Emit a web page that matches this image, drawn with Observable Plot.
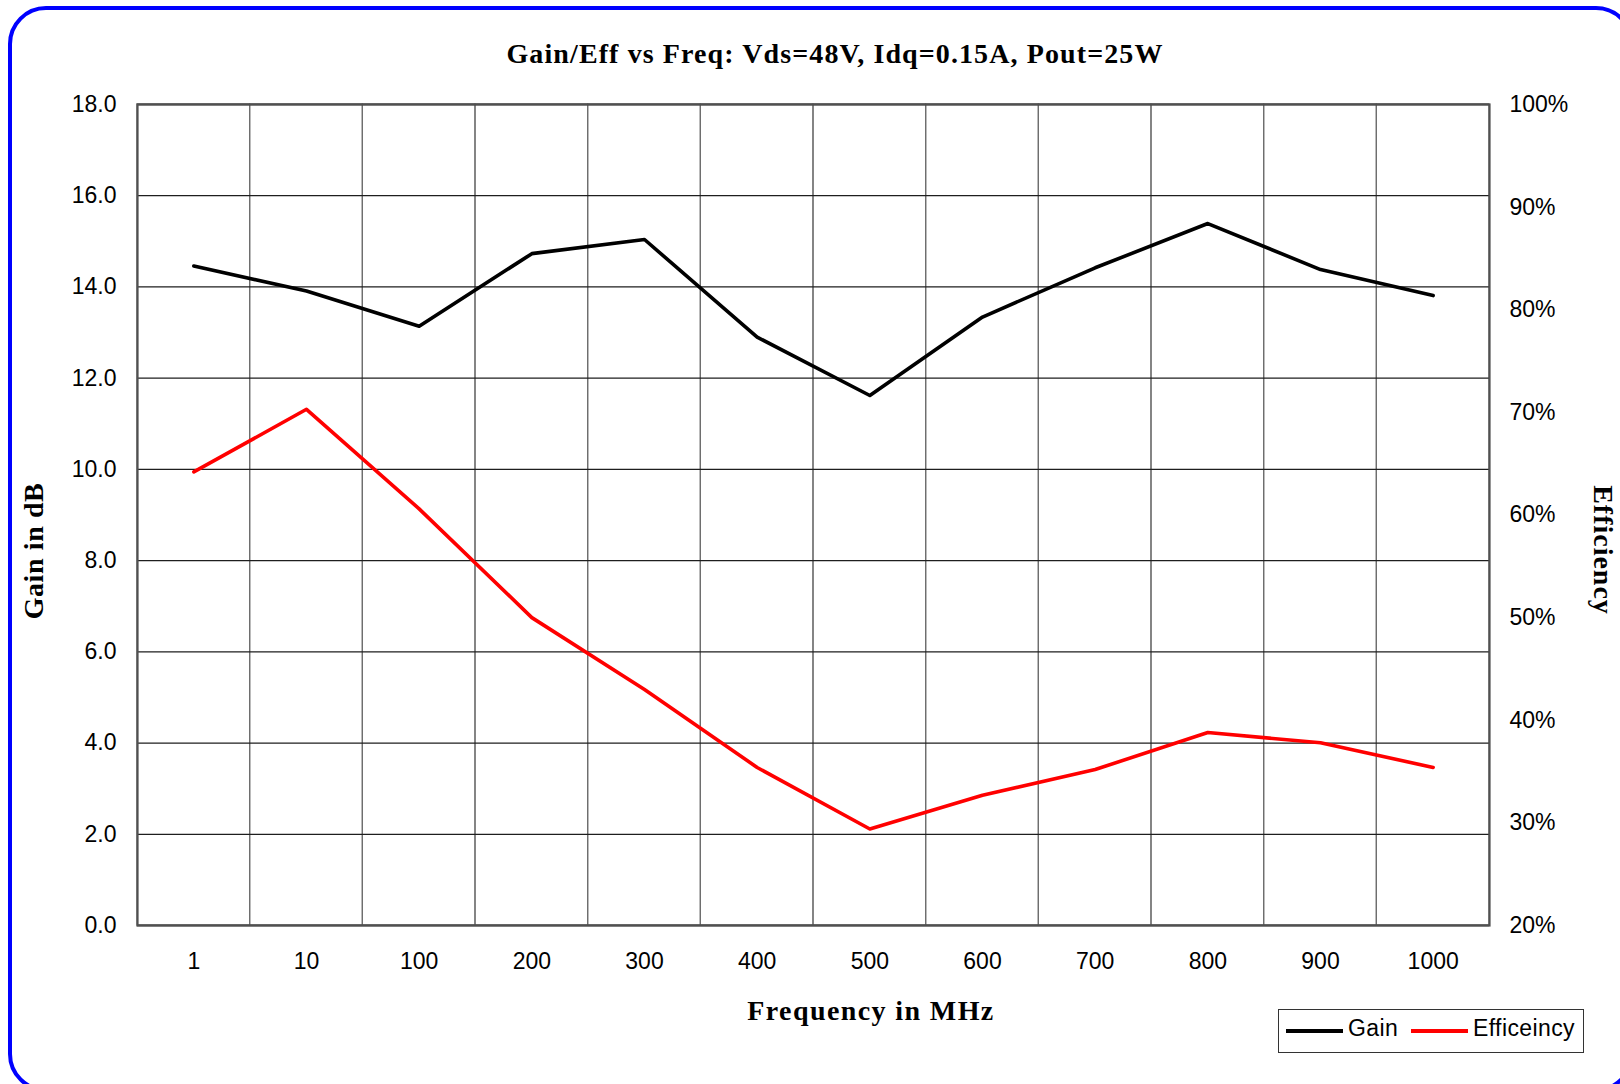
<!DOCTYPE html>
<html>
<head>
<meta charset="utf-8">
<script src="https://cdn.jsdelivr.net/npm/d3@7"></script>
<script src="https://cdn.jsdelivr.net/npm/@observablehq/plot@0.6"></script>
<style>
  html, body { margin: 0; padding: 0; background: #fff; overflow: hidden; }
  #wrap { position: relative; width: 1620px; height: 1084px; overflow: hidden; background: #fff; }
  #border { position: absolute; left: 8px; top: 6px; width: 1626px; height: 1086px; box-sizing: border-box;
            border: 4px solid #0000ff; border-radius: 38px; }
  #chart { position: absolute; left: 0; top: 0; }
  .serif { position: absolute; font-family: "Liberation Serif", "Times New Roman", serif; font-weight: bold;
           color: #000; white-space: nowrap; line-height: 1; }
  #title { left: 835px; top: 54px; font-size: 28px; letter-spacing: 1.1px; transform: translate(-50%, -50%); }
  #xlab { left: 871px; top: 1011px; font-size: 28px; letter-spacing: 1.4px; transform: translate(-50%, -50%); }
  #ylab { left: 34px; top: 551px; font-size: 28px; letter-spacing: 0.6px; transform: translate(-50%, -50%) rotate(-90deg); }
  #y2lab { left: 1603px; top: 550px; font-size: 28px; letter-spacing: 1px; transform: translate(-50%, -50%) rotate(90deg); }
  #legend { position: absolute; left: 1278px; top: 1009px; width: 306px; height: 44px; box-sizing: border-box;
            border: 1.5px solid #333; background: #fff; font-family: "Liberation Sans", Arial, sans-serif;
            font-size: 23px; }
  .sw { position: absolute; top: 19px; width: 57px; height: 4px; }
  .lab { position: absolute; top: 7px; line-height: 1; letter-spacing: 0.4px; white-space: nowrap; }
</style>
</head>
<body>
<div id="wrap">
  <div id="border"></div>
  <div id="chart"></div>
  <div id="title" class="serif"></div>
  <div id="xlab" class="serif"></div>
  <div id="ylab" class="serif"></div>
  <div id="y2lab" class="serif"></div>
  <div id="legend"></div>
</div>
<script>
// ---- data ----
const freqLabels = ["1", "10", "100", "200", "300", "400", "500", "600", "700", "800", "900", "1000"];
const gainDb = [14.46, 13.91, 13.14, 14.73, 15.04, 12.90, 11.62, 13.34, 14.42, 15.39, 14.38, 13.81];
const efficiencyPct = [64.2, 70.3, 60.6, 50.0, 43.0, 35.4, 29.4, 32.7, 35.2, 38.8, 37.8, 35.4];
const gainTicks = [0, 2, 4, 6, 8, 10, 12, 14, 16, 18];
const effTicks = [20, 30, 40, 50, 60, 70, 80, 90, 100];
const gainDomain = [0, 18];
const effDomain = [20, 100];
const seriesNames = ["Gain", "Efficeincy"];
const seriesColors = ["#000000", "#ff0000"];
const titleText = "Gain/Eff vs Freq: Vds=48V, Idq=0.15A, Pout=25W";
const xTitle = "Frequency in MHz";
const yTitle = "Gain in dB";
const y2Title = "Efficiency";

// map efficiency (right axis) onto the gain (left axis) scale
const effToGain = e => gainDomain[0] + (e - effDomain[0]) * (gainDomain[1] - gainDomain[0]) / (effDomain[1] - effDomain[0]);

const rows = freqLabels.map((f, i) => ({f, gain: gainDb[i], eff: efficiencyPct[i]}));

const plot = Plot.plot({
  width: 1620,
  height: 1084,
  marginLeft: 137,
  marginRight: 131,
  marginTop: 104,
  marginBottom: 159,
  style: {fontFamily: "'Liberation Sans', Arial, sans-serif", fontSize: "23px", color: "#000", background: "transparent", overflow: "visible"},
  x: {type: "band", domain: freqLabels, padding: 0, round: false, tickSize: 0, tickPadding: 27, label: null},
  y: {domain: gainDomain, ticks: gainTicks, tickFormat: d => d.toFixed(1), tickSize: 0, tickPadding: 21, label: null},
  marks: [
    Plot.cell(freqLabels, {x: d => d, fill: "none", stroke: "#6e6e6e", strokeWidth: 1.2}),
    Plot.ruleY(gainTicks, {stroke: "#1e1e1e", strokeWidth: 1.3}),
    Plot.frame({stroke: "#505050", strokeWidth: 2.2}),
    Plot.line(rows, {x: "f", y: "gain", stroke: seriesColors[0], strokeWidth: 3.6}),
    Plot.line(rows, {x: "f", y: d => effToGain(d.eff), stroke: seriesColors[1], strokeWidth: 3.6}),
    Plot.text(effTicks, {y: d => effToGain(d), text: d => d + "%", frameAnchor: "right", textAnchor: "start", dx: 20, fontSize: 23, fill: "#000"})
  ]
});
document.getElementById("chart").appendChild(plot);

document.getElementById("title").textContent = titleText;
document.getElementById("xlab").textContent = xTitle;
document.getElementById("ylab").textContent = yTitle;
document.getElementById("y2lab").textContent = y2Title;

// legend: swatch then label for each series
const legend = document.getElementById("legend");
const swatchLeft = [7, 132];
const labelLeft = [69, 194];
seriesNames.forEach((name, i) => {
  const sw = document.createElement("span");
  sw.className = "sw";
  sw.style.left = swatchLeft[i] + "px";
  sw.style.background = seriesColors[i];
  const lab = document.createElement("span");
  lab.className = "lab";
  lab.style.left = labelLeft[i] + "px";
  lab.textContent = name;
  legend.appendChild(sw);
  legend.appendChild(lab);
});
</script>
</body>
</html>
